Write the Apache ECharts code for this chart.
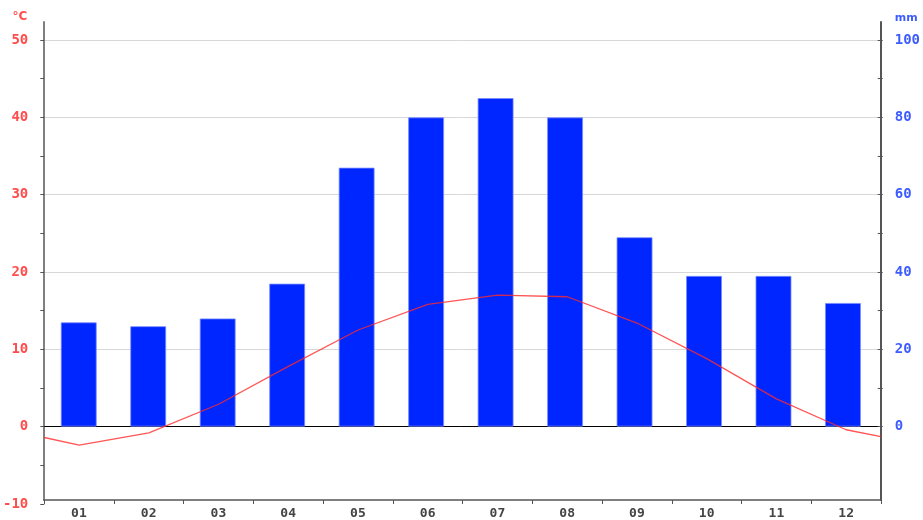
<!DOCTYPE html>
<html>
<head>
<meta charset="utf-8">
<script src="https://cdn.jsdelivr.net/npm/echarts@6/dist/echarts.min.js"></script>
<style>
  html, body { margin: 0; padding: 0; background: #fff; }
  #chart { width: 923px; height: 520px; }
</style>
</head>
<body>
<div id="chart"></div>
<script>
// Climate diagram: monthly precipitation (bars, mm) and mean temperature (line, °C)
const months = ['01', '02', '03', '04', '05', '06', '07', '08', '09', '10', '11', '12'];
const precipitation = [27, 26, 28, 37, 67, 80, 85, 80, 49, 39, 39, 32];
const temperature = [-2.4, -0.8, 2.9, 7.8, 12.5, 15.8, 17.0, 16.8, 13.4, 8.8, 3.6, -0.4];
// temperature where the curve meets the left and right plot edges (Dec/Jan transition)
const edgeTempStart = -1.4;
const edgeTempEnd = -1.3;
const tempTicks = { min: -10, max: 50, step: 10 };
const precTicks = { min: 0, max: 100, step: 20 };

// line points on a continuous month axis, from the left edge (0.5) to the right edge (12.5)
const tempPoints = [[0.5, edgeTempStart]]
  .concat(temperature.map((t, i) => [i + 1, t]))
  .concat([[months.length + 0.5, edgeTempEnd]]);

const PLOT_LEFT = 44, PLOT_RIGHT = 42, PLOT_BOTTOM = 16, PLOT_TOP = 40, FRAME_TOP = 22, H = 520;
const plotHeight = H - PLOT_TOP - PLOT_BOTTOM;
// pixel offset of 0 °C from the bottom of the chart, where precipitation starts
const zeroFromBottom = PLOT_BOTTOM + plotHeight * (0 - tempTicks.min) / (tempTicks.max - tempTicks.min);

const mono = 'DejaVu Sans Mono';
const tempColor = '#ff4d4d';
const precColor = '#3d5cff';
const chart = echarts.init(document.getElementById('chart'), null, { renderer: 'canvas' });

chart.setOption({
  animation: false,
  backgroundColor: '#ffffff',
  grid: [
    { left: PLOT_LEFT, right: PLOT_RIGHT, top: FRAME_TOP, bottom: PLOT_BOTTOM },
    { left: PLOT_LEFT, right: PLOT_RIGHT, top: PLOT_TOP, bottom: PLOT_BOTTOM },
    { left: PLOT_LEFT, right: PLOT_RIGHT, top: PLOT_TOP, bottom: zeroFromBottom }
  ],
  xAxis: [
    {
      gridIndex: 0, type: 'category', data: months, boundaryGap: true,
      axisLine: { lineStyle: { color: '#555', width: 1.5 } },
      axisTick: { show: true, length: 4, lineStyle: { color: '#555' } },
      axisLabel: { color: '#444', fontFamily: mono, fontSize: 13, fontWeight: 'bold', margin: 7 }
    },
    { gridIndex: 1, type: 'value', min: 0.5, max: months.length + 0.5, show: false },
    {
      gridIndex: 2, type: 'category', data: months, boundaryGap: true,
      axisLine: { show: true, lineStyle: { color: '#000', width: 1 } },
      axisTick: { show: false }, axisLabel: { show: false }, splitLine: { show: false }
    }
  ],
  yAxis: [
    {
      gridIndex: 0, type: 'value', position: 'left', min: 0, max: 1,
      axisLine: { show: true, lineStyle: { color: '#808080', width: 2 } },
      axisTick: { show: false }, axisLabel: { show: false }, splitLine: { show: false }
    },
    {
      gridIndex: 0, type: 'value', position: 'right', min: 0, max: 1,
      axisLine: { show: true, lineStyle: { color: '#555', width: 2 } },
      axisTick: { show: false }, axisLabel: { show: false }, splitLine: { show: false }
    },
    {
      gridIndex: 1, type: 'value', position: 'left',
      min: tempTicks.min, max: tempTicks.max, interval: tempTicks.step,
      name: '°C', nameLocation: 'end', nameGap: 17,
      nameTextStyle: { color: tempColor, fontFamily: 'DejaVu Sans', fontSize: 12, fontWeight: 'bold', align: 'right', padding: [0, 17, 0, 0] },
      axisLine: { show: false },
      axisTick: { show: true, inside: false, length: 4, lineStyle: { color: '#555' } },
      minorTick: { show: true, splitNumber: 2, length: 4, lineStyle: { color: '#555' } },
      axisLabel: { color: tempColor, fontFamily: mono, fontSize: 14, fontWeight: 'bold', margin: 16 },
      splitLine: { show: true, showMinLine: false, lineStyle: { color: '#d8d8d8', width: 1 } }
    },
    {
      gridIndex: 2, type: 'value', position: 'right',
      min: precTicks.min, max: precTicks.max, interval: precTicks.step,
      name: 'mm', nameLocation: 'end', nameGap: 16,
      nameTextStyle: { color: precColor, fontFamily: 'DejaVu Sans', fontSize: 11, fontWeight: 'bold', align: 'left', padding: [0, 0, 0, 17] },
      axisLine: { show: false },
      axisTick: { show: true, inside: false, length: 5, lineStyle: { color: '#555' } },
      minorTick: { show: true, splitNumber: 2, length: 5, lineStyle: { color: '#555' } },
      axisLabel: { color: precColor, fontFamily: mono, fontSize: 14, fontWeight: 'bold', margin: 17 },
      splitLine: { show: false }
    }
  ],
  series: [
    {
      name: 'Precipitation', type: 'bar', xAxisIndex: 2, yAxisIndex: 3,
      data: precipitation, barWidth: 36, z: 2,
      itemStyle: { color: '#0026ff', borderColor: 'rgba(120,140,255,0.8)', borderWidth: 1 }
    },
    {
      name: 'Temperature', type: 'line', xAxisIndex: 1, yAxisIndex: 2,
      data: tempPoints, symbol: 'none', smooth: false, z: 5,
      lineStyle: { color: '#ff2a2a', width: 1.3, opacity: 0.8 }
    }
  ]
});
</script>
</body>
</html>
